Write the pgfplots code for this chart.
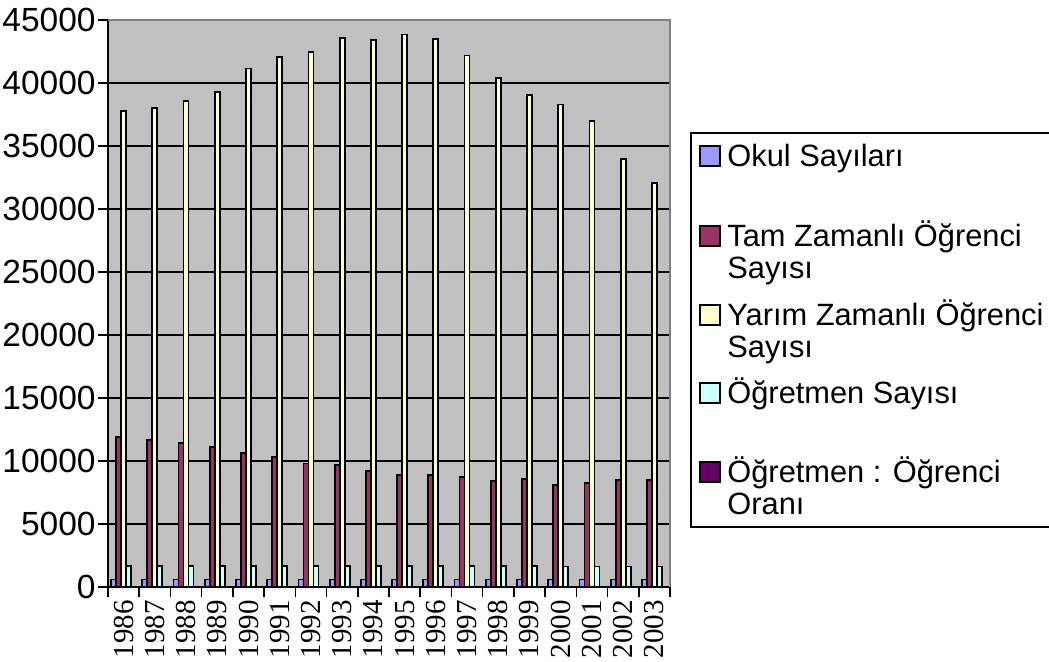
\documentclass[border=0pt]{standalone}
\usepackage{fontspec}
\setmainfont{Liberation Sans}
\newfontfamily\arial{Liberation Sans}
\newfontfamily\tnr{Liberation Serif}
\usepackage{pgfplots}
\pgfplotsset{compat=1.18}
\definecolor{cOkul}{HTML}{9999FF}
\definecolor{cTam}{HTML}{993366}
\definecolor{cYarim}{HTML}{FFFFCC}
\definecolor{cOgr}{HTML}{CCFFFF}
\definecolor{cOran}{HTML}{660066}
\definecolor{plotbg}{HTML}{C0C0C0}
\definecolor{frame}{HTML}{808080}
\begin{document}
\begin{tikzpicture}
\useasboundingbox (-54pt,-37pt) rectangle (470.5pt,293.5pt);
\begin{axis}[
  at={(0,0)}, anchor=south west,
  scale only axis, width=281pt, height=283.5pt,
  xmin=-0.5, xmax=17.5, ymin=0, ymax=45000,
  axis x line=bottom, axis y line=left,
  axis line style={-, line width=0.8pt, black},
  axis background/.style={fill=plotbg, draw=frame, line width=0.75pt},
  tick align=outside, major tick length=5pt, minor tick length=5pt,
  tick style={black, line width=0.75pt},
  ytick={0,5000,...,45000},
  ymajorgrids, grid style={black, line width=0.9pt},
  scaled y ticks=false,
  /pgf/number format/1000 sep={},
  /pgf/number format/assume math mode=true,
  yticklabel style={font=\arial\fontsize{16.75}{20}\selectfont, inner sep=1pt},
  xtick={0,...,17},
  xticklabels={1986,1987,1988,1989,1990,1991,1992,1993,1994,1995,1996,1997,1998,1999,2000,2001,2002,2003},
  major x tick style={draw=none},
  minor xtick={-0.5,0.5,...,17.5},
  xticklabel style={font=\tnr\fontsize{14.5}{17}\selectfont, rotate=90, anchor=east, inner sep=1.5pt},
  ybar=0pt, bar width=2.5pt,
  every axis plot/.append style={draw=black, line width=0.9pt},
  clip=false,
]
\addplot[fill=cOkul] coordinates {(0,600)(1,600)(2,600)(3,600)(4,600)(5,600)(6,600)(7,600)(8,600)(9,600)(10,600)(11,600)(12,600)(13,600)(14,600)(15,600)(16,600)(17,600)};
\addplot[fill=cTam] coordinates {(0,11900)(1,11670)(2,11400)(3,11140)(4,10610)(5,10340)(6,9800)(7,9690)(8,9210)(9,8900)(10,8900)(11,8760)(12,8410)(13,8550)(14,8100)(15,8230)(16,8490)(17,8490)};
\addplot[fill=cYarim] coordinates {(0,37800)(1,38000)(2,38550)(3,39270)(4,41150)(5,42050)(6,42480)(7,43590)(8,43430)(9,43850)(10,43510)(11,42180)(12,40410)(13,39060)(14,38290)(15,36960)(16,34000)(17,32070)};
\addplot[fill=cOgr] coordinates {(0,1660)(1,1660)(2,1660)(3,1660)(4,1670)(5,1680)(6,1670)(7,1670)(8,1660)(9,1660)(10,1660)(11,1660)(12,1650)(13,1640)(14,1630)(15,1620)(16,1620)(17,1620)};
\addplot[fill=cOran] coordinates {(0,30)(1,30)(2,30)(3,30)(4,30)(5,30)(6,30)(7,30)(8,30)(9,30)(10,30)(11,30)(12,30)(13,30)(14,30)(15,30)(16,30)(17,30)};
\draw[frame, line width=0.75pt] (rel axis cs:0,1) -- (rel axis cs:1,1) -- (rel axis cs:1,0);
\end{axis}
% legend
\draw[black, line width=0.75pt, fill=white] (291.5pt,30pt) rectangle (475pt,227pt);
\foreach \y/\c in {215.5/cOkul,175.5/cTam,136/cYarim,97/cOgr,57.5/cOran}{
  \draw[black, line width=0.7pt, fill=\c] (296pt,\y pt-5pt) rectangle (306pt,\y pt+5pt);
}
\begin{scope}[every node/.style={anchor=base west, inner sep=0pt, font=\arial\fontsize{15.4}{18}\selectfont}]
\node at (309.5pt,210.5pt) {Okul Sayıları};
\node at (309.5pt,170.5pt) {Tam Zamanlı Öğrenci};
\node at (309.5pt,154.5pt) {Sayısı};
\node at (309.5pt,131pt) {Yarım Zamanlı Öğrenci};
\node at (309.5pt,115pt) {Sayısı};
\node at (309.5pt,92pt) {Öğretmen Sayısı};
\node at (309.5pt,52.5pt) {Öğretmen : Öğrenci};
\node at (309.5pt,36.5pt) {Oranı};
\end{scope}
\end{tikzpicture}
\end{document}
